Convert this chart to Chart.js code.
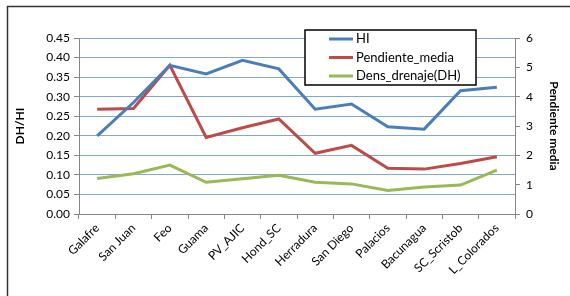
<!DOCTYPE html>
<html>
<head>
<meta charset="utf-8">
<script src="https://cdn.jsdelivr.net/npm/chart.js@4.4.1/dist/chart.umd.min.js"></script>
<style>
  html, body { margin: 0; padding: 0; background: #fff; }
  #wrap { width: 570px; height: 296px; position: relative; }
</style>
</head>
<body>
<div id="wrap"><canvas id="chart"></canvas></div>
<script>
const cuencas = ['Galafre', 'San Juan', 'Feo', 'Guama', 'PV_AJIC', 'Hond_SC', 'Herradura',
  'San Diego', 'Palacios', 'Bacunagua', 'SC_Scristob', 'L_Colorados'];
const hi = [0.200, 0.285, 0.380, 0.358, 0.393, 0.371, 0.268, 0.281, 0.223, 0.217, 0.315, 0.324];
const pendienteMedia = [3.57, 3.60, 5.07, 2.61, 2.94, 3.24, 2.07, 2.34, 1.56, 1.53, 1.72, 1.95];
const densDrenaje = [0.091, 0.103, 0.125, 0.081, 0.090, 0.099, 0.081, 0.077, 0.060, 0.069, 0.074, 0.112];

const font = 'Lato, "Liberation Sans", sans-serif';
const axisGray = '#868686';
const gridBlue = '#80a8dc';

// legend box drawn over the plot like the original
const boxLegend = {
  id: 'boxLegend',
  beforeDraw(chart) {
    const ctx = chart.ctx;
    ctx.save();
    ctx.strokeStyle = '#333';
    ctx.lineWidth = 1.5;
    ctx.strokeRect(7.5, 6.5, 700, 400);
    ctx.restore();
  },
  afterDatasetsDraw(chart) {
    const ctx = chart.ctx;
    ctx.save();
    ctx.fillStyle = '#fff';
    ctx.fillRect(305, 30, 171, 55);
    ctx.strokeStyle = '#000';
    ctx.lineWidth = 1.5;
    ctx.strokeRect(305, 30, 171, 55);
    ctx.font = '13px ' + font;
    ctx.textBaseline = 'middle';
    chart.data.datasets.forEach((ds, i) => {
      const y = 39 + i * 18.5;
      ctx.strokeStyle = ds.borderColor;
      ctx.lineWidth = 3;
      ctx.beginPath();
      ctx.moveTo(329, y);
      ctx.lineTo(353, y);
      ctx.stroke();
      ctx.fillStyle = '#000';
      ctx.fillText(ds.label, 356, y);
    });
    ctx.restore();
  }
};

new Chart(document.getElementById('chart'), {
  type: 'line',
  data: {
    labels: cuencas,
    datasets: [
      { label: 'HI', data: hi, yAxisID: 'y', borderColor: '#4a7ebb' },
      { label: 'Pendiente_media', data: pendienteMedia, yAxisID: 'y1', borderColor: '#be4b48' },
      { label: 'Dens_drenaje(DH)', data: densDrenaje, yAxisID: 'y', borderColor: '#98b954' }
    ]
  },
  options: {
    responsive: true,
    maintainAspectRatio: false,
    animation: false,
    layout: { padding: { top: 38, left: 0, right: 0, bottom: 0 } },
    elements: {
      line: { borderWidth: 3, tension: 0 },
      point: { radius: 0, hoverRadius: 0 }
    },
    plugins: {
      legend: { display: false },
      tooltip: { enabled: false }
    },
    scales: {
      x: {
        offset: true,
        grid: { offset: true, drawOnChartArea: false, tickLength: 5, tickColor: axisGray },
        border: { color: axisGray, width: 1 },
        ticks: {
          color: '#000', font: { family: font, size: 12 },
          minRotation: 45, maxRotation: 45, autoSkip: false, padding: 2
        },
        afterFit(scale) { scale.height = 82; }
      },
      y: {
        position: 'left',
        min: 0, max: 0.45,
        grid: { color: gridBlue, tickLength: 5, tickColor: axisGray },
        border: { color: axisGray, width: 1 },
        ticks: {
          stepSize: 0.05, color: '#000', font: { family: font, size: 12 }, padding: 4,
          callback: v => v.toFixed(2)
        },
        title: {
          display: true, text: 'DH/HI', color: '#000',
          font: { family: font, size: 12, weight: 'bold' }, padding: { top: 13 }
        },
        afterFit(scale) { scale.width = 79; }
      },
      y1: {
        position: 'right',
        min: 0, max: 6,
        grid: { drawOnChartArea: false, tickLength: 5, tickColor: axisGray },
        border: { color: axisGray, width: 1 },
        ticks: { stepSize: 1, color: '#000', font: { family: font, size: 12 }, padding: 6 },
        title: {
          display: true, text: 'Pendiente media', color: '#000',
          font: { family: font, size: 12, weight: 'bold' }, padding: { top: 9 }
        },
        afterFit(scale) { scale.width = 55; }
      }
    }
  },
  plugins: [boxLegend]
});
</script>
</body>
</html>
